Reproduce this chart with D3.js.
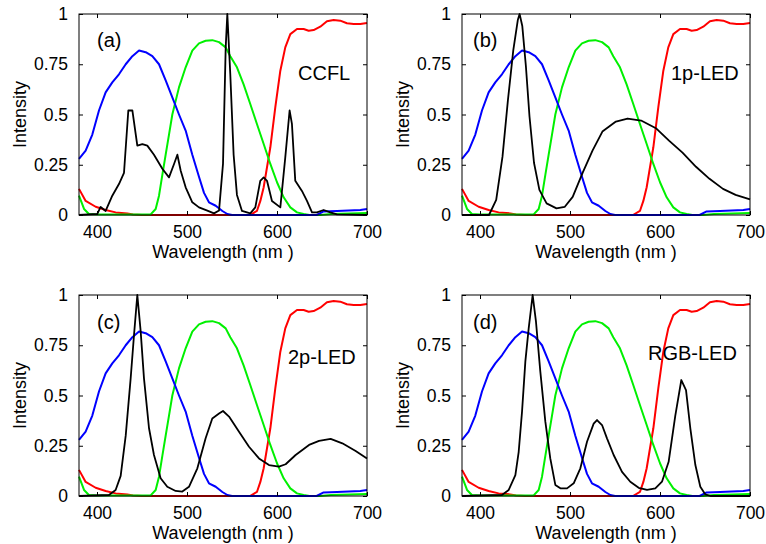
<!DOCTYPE html>
<html><head><meta charset="utf-8">
<script src="https://cdn.jsdelivr.net/npm/d3@7"></script>
<style>body{margin:0;background:#fff}svg{display:block}text{font-family:"Liberation Sans",Arial,sans-serif;fill:#000}</style>
</head><body>
<script>
const wavelengthTicks=[400,500,600,700];
const intensityTicks=[0,0.25,0.5,0.75,1];
const tickLabels=["0","0.25","0.5","0.75","1"];
const panelLetters=["(a)","(b)","(c)","(d)"];
const panelNames=["CCFL","1p-LED","2p-LED","RGB-LED"];

const redFilter=[[380,0.13],[387.4,0.07],[398.5,0.041],[409.6,0.025],[420.7,0.013],[433.7,0.008],[440,0.002],[450,0],[570,0],[577.7,0.02],[581.5,0.07],[585.2,0.138],[592.6,0.337],[598.1,0.536],[603.7,0.718],[609.2,0.834],[614.8,0.9],[622.2,0.925],[629.6,0.925],[635.2,0.917],[640.7,0.92],[648.1,0.937],[655.5,0.964],[662.9,0.97],[670.3,0.967],[677.7,0.954],[685.2,0.95],[692.6,0.95],[700,0.955]];
const greenFilter=[[380,0.096],[385.6,0.03],[391,0.005],[400,0.003],[459.6,0.003],[465.2,0.03],[468.9,0.096],[472.6,0.2],[476.3,0.3],[480,0.4],[483.7,0.5],[491.1,0.635],[498.5,0.735],[505.9,0.818],[513.3,0.854],[520.7,0.867],[528.1,0.87],[535.6,0.86],[543,0.834],[548.1,0.79],[555.5,0.735],[562.9,0.65],[570.3,0.552],[577.7,0.453],[585.2,0.353],[592.6,0.254],[600,0.163],[607.4,0.088],[614.8,0.038],[622.2,0.013],[629.6,0.005],[636,0],[648,0],[660,0.005],[700,0.01]];
const blueFilter=[[380,0.279],[387.4,0.32],[394.8,0.4],[402.2,0.52],[409.6,0.61],[417,0.66],[424.4,0.7],[431.9,0.75],[439.3,0.79],[446.7,0.818],[454.1,0.81],[461.5,0.79],[468.9,0.75],[476.3,0.67],[483.7,0.585],[491.1,0.5],[498.5,0.42],[505.9,0.3],[513.3,0.19],[518.9,0.11],[524.4,0.063],[531.9,0.046],[539.3,0.02],[544.8,0.005],[550,0],[644,0],[651.8,0.018],[666.6,0.02],[692.6,0.025],[700,0.03]];

const ccfl=[[380,0],[400.4,0.005],[404,0.04],[409.6,0.02],[417,0.096],[424.4,0.154],[430,0.21],[434.8,0.52],[439.3,0.52],[444.8,0.345],[450.4,0.353],[455.9,0.345],[463.3,0.3],[472.6,0.23],[480,0.187],[485.6,0.254],[489.3,0.3],[493,0.22],[498.5,0.138],[505.9,0.063],[513.3,0.038],[522.6,0.022],[530,0.008],[535.6,0.022],[540,0.254],[543,0.834],[544.8,1.0],[548.1,0.7],[551.8,0.3],[555.5,0.1],[561.1,0.02],[570.3,0.008],[575.9,0.038],[581.4,0.17],[585.2,0.187],[588.9,0.17],[594.4,0.07],[603.7,0.038],[609.2,0.287],[614,0.52],[616.6,0.453],[620.3,0.17],[627.7,0.12],[633.3,0.07],[638.9,0.013],[644.4,0.013],[651.8,0.025],[659.2,0.013],[666.6,0.003],[700,0]];
const led1p=[[380,0],[410,0],[418,0.075],[425,0.29],[431,0.57],[437,0.82],[442,0.97],[444,1.0],[447,0.94],[451,0.74],[455,0.49],[460,0.26],[466,0.125],[474,0.058],[485,0.033],[494,0.04],[503,0.09],[514,0.21],[525,0.32],[536,0.415],[551,0.465],[564,0.48],[579,0.47],[596,0.43],[610,0.37],[625,0.31],[640,0.24],[655,0.18],[670,0.13],[684,0.1],[700,0.078]];
const led2p=[[380,0],[413.3,0.005],[420.7,0.03],[426.3,0.1],[431.9,0.3],[437.4,0.585],[441.1,0.8],[444.8,1.0],[448.5,0.82],[452.2,0.585],[457.8,0.337],[463.3,0.204],[470.7,0.088],[478.1,0.046],[487.4,0.025],[494.8,0.022],[502.2,0.046],[511.5,0.138],[520.7,0.287],[528.1,0.386],[535.6,0.41],[540,0.423],[546.7,0.395],[557.8,0.32],[568.9,0.245],[580,0.187],[591.1,0.154],[602.2,0.146],[609.6,0.158],[620.7,0.204],[635.6,0.254],[646.7,0.274],[659.6,0.284],[672.6,0.262],[687.4,0.224],[700,0.187]];
const ledRGB=[[380,0],[424.4,0.005],[431.9,0.03],[439.3,0.104],[443,0.22],[446.7,0.42],[450.4,0.67],[454.1,0.834],[458.5,1.0],[462.2,0.867],[467,0.62],[472.6,0.37],[478.1,0.187],[483.7,0.055],[489.3,0.038],[496.7,0.038],[504.1,0.063],[511.5,0.138],[518.9,0.27],[526.3,0.36],[530,0.378],[535.6,0.353],[541.1,0.287],[548.5,0.204],[557.8,0.12],[567,0.071],[576.3,0.041],[585.6,0.03],[594.8,0.038],[602.2,0.071],[609.6,0.17],[617,0.4],[623.7,0.577],[628.9,0.527],[633.7,0.337],[639.3,0.154],[644.8,0.046],[650.4,0.008],[656,0],[700,0]];
const blackSpectra=[ccfl,led1p,led2p,ledRGB];

const W=766,H=544,pw=288,ph=201;
const origins=[[79,14],[462,14],[79,295],[462,295]];
const svg=d3.select("body").append("svg").attr("width",W).attr("height",H);
svg.append("rect").attr("width",W).attr("height",H).attr("fill","#fff");

const x=d3.scaleLinear().domain([380,700]).range([0,pw]);
const y=d3.scaleLinear().domain([0,1]).range([ph,0]);
const line=d3.line().x(d=>x(d[0])).y(d=>y(d[1]));

origins.forEach((o,i)=>{
  const g=svg.append("g").attr("transform",`translate(${o[0]},${o[1]})`);
  const cid="clip"+i;
  g.append("clipPath").attr("id",cid).append("rect").attr("x",-1).attr("y",-1).attr("width",pw+2).attr("height",ph+2);
  const curves=g.append("g").attr("clip-path",`url(#${cid})`);
  [[redFilter,"#ff0000"],[greenFilter,"#00f000"],[blueFilter,"#0000ff"]].forEach(([d,c])=>{
    curves.append("path").datum(d).attr("d",line).attr("fill","none").attr("stroke",c).attr("stroke-width",2).attr("stroke-linejoin","round");
  });
  curves.append("path").datum(blackSpectra[i]).attr("d",line).attr("fill","none").attr("stroke","#000").attr("stroke-width",1.8).attr("stroke-linejoin","round");

  const xb=g.append("g").attr("transform",`translate(0,${ph})`).call(d3.axisBottom(x).tickValues(wavelengthTicks).tickSize(-4).tickPadding(11).tickSizeOuter(0));
  const xt=g.append("g").call(d3.axisTop(x).tickValues(wavelengthTicks).tickSize(-4).tickFormat("").tickSizeOuter(0));
  const yl=g.append("g").call(d3.axisLeft(y).tickValues(intensityTicks).tickFormat((d,j)=>tickLabels[j]).tickSize(-4).tickPadding(11).tickSizeOuter(0));
  const yr=g.append("g").attr("transform",`translate(${pw},0)`).call(d3.axisRight(y).tickValues(intensityTicks).tickSize(-4).tickFormat("").tickSizeOuter(0));
  [xb,xt,yl,yr].forEach(a=>{a.select(".domain").remove();a.selectAll("line").attr("stroke","#000");a.selectAll("text").attr("font-size",17.5).attr("font-family","Liberation Sans, Arial, sans-serif").attr("fill","#000");});
  g.append("rect").attr("width",pw).attr("height",ph).attr("fill","none").attr("stroke","#000").attr("stroke-width",1);

  g.append("text").attr("x",pw/2).attr("y",ph+43).attr("text-anchor","middle").attr("font-size",18).text("Wavelength (nm )");
  g.append("text").attr("transform",`translate(${-53},${ph/2}) rotate(-90)`).attr("text-anchor","middle").attr("font-size",18).text("Intensity");
  g.append("text").attr("x",i%2? 11:18).attr("y",i<2?33:34).attr("font-size",20).text(panelLetters[i]);
  const nameX=[219,209,209,186][i], nameY=[66,66,69,65][i];
  g.append("text").attr("x",nameX).attr("y",nameY).attr("font-size",20).text(panelNames[i]);
});
</script>
</body></html>
